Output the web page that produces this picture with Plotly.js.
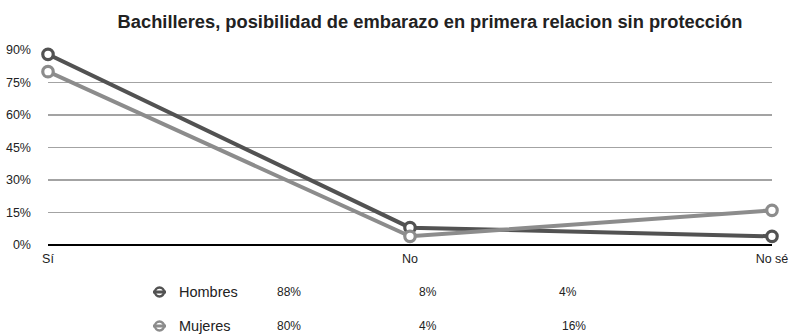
<!DOCTYPE html>
<html>
<head>
<meta charset="utf-8">
<script src="https://cdn.plot.ly/plotly-3.0.1.min.js"></script>
<style>
  html, body { margin: 0; padding: 0; background: #fff; }
  #chart { width: 791px; height: 335px; }
</style>
</head>
<body>
<div id="chart"></div>
<script>
// Answers to the question, by sex
const categories = ['Sí', 'No', 'No sé'];
const hombres = [88, 8, 4];
const mujeres = [80, 4, 16];
const seriesNames = ['Hombres', 'Mujeres'];
const seriesColors = ['#525252', '#8c8c8c'];
const seriesValues = [hombres, mujeres];

const FONT = '"Liberation Sans", Arial, sans-serif';
const W = 791, H = 335;
const M = { l: 48, r: 19, t: 50, b: 90 };

const traces = seriesValues.map((vals, i) => ({
  type: 'scatter',
  mode: 'lines+markers',
  name: seriesNames[i],
  x: categories,
  y: vals,
  cliponaxis: false,
  line: { color: seriesColors[i], width: 4 },
  marker: { symbol: 'circle', size: 10.5, color: '#ffffff',
            line: { color: seriesColors[i], width: 3.2 } },
  hoverinfo: 'skip'
}));

// Table under the plot: icon, series name and its values per category
const rowY = [292, 326];
const colX = [[276, 418, 558], [276, 418, 561]];
const annotations = [];
const shapes = [];
const toPX = x => (x - M.l) / (W - M.l - M.r);
const toPY = y => (H - M.b - y) / (H - M.t - M.b);

seriesNames.forEach((name, i) => {
  annotations.push({
    xref: 'paper', yref: 'paper',
    x: toPX(177), y: toPY(rowY[i]),
    xanchor: 'left', yanchor: 'middle',
    text: name, showarrow: false,
    font: { family: FONT, size: 14.5, color: '#222' }
  });
  seriesValues[i].forEach((v, j) => {
    annotations.push({
      xref: 'paper', yref: 'paper',
      x: toPX(colX[i][j] - 1), y: toPY(rowY[i]),
      xanchor: 'left', yanchor: 'middle',
      text: v + '%', showarrow: false,
      font: { family: FONT, size: 12, color: '#222' }
    });
  });
  shapes.push({
    type: 'line', xref: 'paper', yref: 'paper',
    x0: toPX(153), x1: toPX(166), y0: toPY(rowY[i]), y1: toPY(rowY[i]),
    line: { color: seriesColors[i], width: 3 }
  });
  shapes.push({
    type: 'circle', xref: 'paper', yref: 'paper',
    x0: toPX(155), x1: toPX(164), y0: toPY(rowY[i] - 4.5), y1: toPY(rowY[i] + 4.5),
    fillcolor: 'rgba(0,0,0,0)',
    line: { color: seriesColors[i], width: 2.5 }
  });
});

const layout = {
  width: W, height: H,
  margin: M,
  paper_bgcolor: '#ffffff',
  plot_bgcolor: '#ffffff',
  showlegend: false,
  font: { family: FONT, size: 12.5, color: '#222' },
  title: {
    text: 'Bachilleres, posibilidad de embarazo en primera relacion sin protección',
    font: { family: FONT, size: 18.3, color: '#222', weight: 'bold' },
    xref: 'paper', x: toPX(430), xanchor: 'center',
    yref: 'container', y: 1 - 21.5 / H, yanchor: 'middle'
  },
  xaxis: {
    type: 'category',
    range: [0, 2],
    showgrid: false,
    zeroline: false,
    showline: false,
    ticks: '',
    ticklabelstandoff: 4,
    tickfont: { family: FONT, size: 12.5, color: '#222' },
    fixedrange: true
  },
  yaxis: {
    range: [0, 90],
    tickvals: [0, 15, 30, 45, 60, 75, 90],
    ticktext: ['0%', '15%', '30%', '45%', '60%', '75%', '90%'],
    showgrid: true,
    gridcolor: '#a3a3a3',
    gridwidth: 1.5,
    zeroline: true,
    zerolinecolor: '#000000',
    zerolinewidth: 2,
    showline: false,
    ticks: '',
    ticklabelstandoff: 16,
    tickfont: { family: FONT, size: 12.5, color: '#222' },
    fixedrange: true
  },
  shapes: shapes,
  annotations: annotations
};

Plotly.newPlot('chart', traces, layout, { displayModeBar: false, staticPlot: true });
</script>
</body>
</html>
